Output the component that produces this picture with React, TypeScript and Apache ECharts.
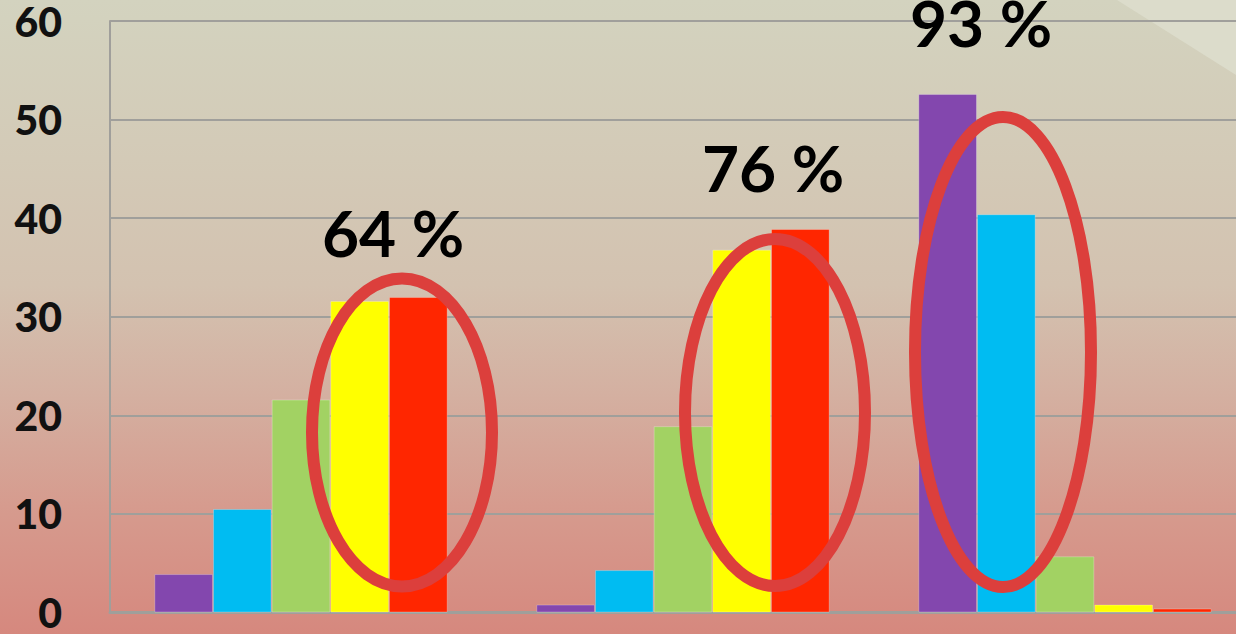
import React, { useEffect, useRef } from "react";
import * as echarts from "echarts";

// Three groups, five graded answer levels per group
const categories = ["G1", "G2", "G3"];
const level1 = [3.9, 0.8, 52.6];
const level2 = [10.5, 4.3, 40.4];
const level3 = [21.6, 18.9, 5.7];
const level4 = [31.6, 36.8, 0.8];
const level5 = [32.0, 38.9, 0.4];
const yTicks = [0, 10, 20, 30, 40, 50, 60];

const seriesList = [
  { name: "Level 1", data: level1, color: "#8347ae" },
  { name: "Level 2", data: level2, color: "#00bcf2" },
  { name: "Level 3", data: level3, color: "#a2d263" },
  { name: "Level 4", data: level4, color: "#ffff00" },
  { name: "Level 5", data: level5, color: "#ff2600" },
];

// Share highlighted per group: sum of the two circled bars
const pct = (a: number[], b: number[], i: number) => `${Math.round(a[i] + b[i])} %`;

export default function App() {
  const ref = useRef<HTMLDivElement>(null);

  useEffect(() => {
    if (!ref.current) return;
    const chart = echarts.init(ref.current, null, { renderer: "svg" });

    const ring = { fill: "none", stroke: "#dc3f3c", lineWidth: 12 };
    const bigFont = 'bold 64px Lato, "Open Sans", sans-serif';

    chart.setOption({
      animation: false,
      backgroundColor: "transparent",
      // the plot runs a little past the visible right edge
      grid: { left: 110, top: 21, right: 4, bottom: 21.5, containLabel: false },
      xAxis: {
        type: "category",
        data: categories,
        axisLine: { show: true, lineStyle: { color: "#a09f9b", width: 3 } },
        axisTick: { show: false },
        axisLabel: { show: false },
        splitLine: { show: false },
      },
      yAxis: {
        type: "value",
        min: yTicks[0],
        max: yTicks[yTicks.length - 1],
        interval: 10,
        axisLine: { show: true, lineStyle: { color: "#a09f9b", width: 2 } },
        axisTick: { show: false },
        splitLine: { show: true, lineStyle: { color: "#a09f9b", width: 2 } },
        axisLabel: {
          margin: 48,
          color: "#111111",
          fontFamily: 'Lato, "Open Sans", sans-serif',
          fontWeight: 900,
          fontSize: 41,
          padding: [14, 0, 0, 0],
        },
      },
      series: seriesList.map((s) => ({
        name: s.name,
        type: "bar",
        data: s.data,
        barGap: "0%",
        barCategoryGap: "23.2%",
        itemStyle: { color: s.color, borderColor: "rgba(255,255,255,0.25)", borderWidth: 1 },
      })),
      graphic: [
        {
          type: "polygon",
          z: -10,
          silent: true,
          shape: { points: [[1117, 0], [1236, 0], [1236, 75]] },
          style: { fill: "#dcdccb" },
        },
        { type: "ellipse", z: 100, shape: { cx: 402, cy: 432.4, rx: 90, ry: 154 }, style: ring },
        { type: "ellipse", z: 100, shape: { cx: 775, cy: 412.5, rx: 90, ry: 173.5 }, style: ring },
        { type: "ellipse", z: 100, shape: { cx: 1003, cy: 352, rx: 88, ry: 235 }, style: ring },
        {
          type: "text",
          z: 100,
          x: 393,
          y: 232.5,
          style: { text: pct(level4, level5, 0), font: bigFont, fill: "#000", align: "center", verticalAlign: "middle" },
        },
        {
          type: "text",
          z: 100,
          x: 773,
          y: 167,
          style: { text: pct(level4, level5, 1), font: bigFont, fill: "#000", align: "center", verticalAlign: "middle" },
        },
        {
          type: "text",
          z: 100,
          x: 981,
          y: 22,
          style: { text: pct(level1, level2, 2), font: bigFont, fill: "#000", align: "center", verticalAlign: "middle" },
        },
      ],
    });

    return () => chart.dispose();
  }, []);

  return (
    <div
      style={{
        position: "absolute",
        left: 0,
        top: 0,
        width: 1236,
        height: 634,
        overflow: "hidden",
        background:
          "linear-gradient(to bottom, #d3d3bf 0%, #d3cab7 25%, #d3c2b0 45%, #d4b0a1 62%, #d69b8e 80%, #d6887e 100%)",
      }}
    >
      <div ref={ref} style={{ width: 1260, height: 634 }} />
    </div>
  );
}
